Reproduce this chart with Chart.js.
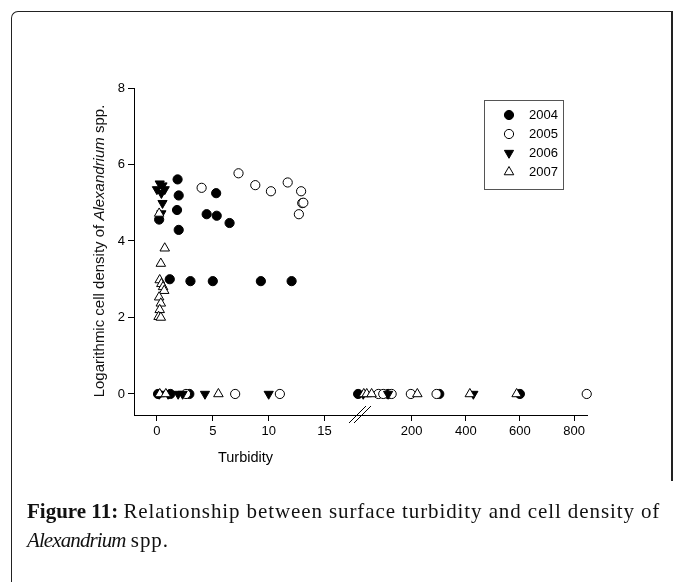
<!DOCTYPE html>
<html>
<head>
<meta charset="utf-8">
<script src="https://cdn.jsdelivr.net/npm/chart.js@4/dist/chart.umd.min.js"></script>
<style>
  html, body { margin: 0; padding: 0; background: #fff; }
  #wrap { position: relative; width: 683px; height: 582px; overflow: hidden; }
  #chart { position: absolute; left: 0; top: 0; }
  #frame { position: absolute; left: 11px; top: 11px; width: 659px; height: 700px;
           border-left: 1.5px solid #222; border-top: 1.5px solid #222; border-top-left-radius: 7px; }
  #frameRight { position: absolute; left: 671px; top: 11px; width: 1.5px; height: 470px; background: #222; }
  #ytitle { position: absolute; left: -71px; top: 242px; width: 340px; height: 18px; line-height: 18px;
            text-align: center; transform: rotate(-90deg); font: 15px "Liberation Sans", Arial, sans-serif; color: #111; white-space: nowrap; }
  #caption { position: absolute; left: 27px; top: 497px; width: 655px; font: 21px "Liberation Serif", "DejaVu Serif", serif;
             line-height: 29px; color: #111; white-space: nowrap; }
  #caption .reg { letter-spacing: 0.9px; }
  #caption i { letter-spacing: -0.9px; }
</style>
</head>
<body>
<div id="wrap">
  <canvas id="chart" width="683" height="582"></canvas>
  <div id="frame"></div>
  <div id="frameRight"></div>
  <div id="ytitle">Logarithmic cell density of <i>Alexandrium</i> spp.</div>
  <div id="caption"><b>Figure 11:</b> <span class="reg">Relationship between surface turbidity and cell density of</span><br><i>Alexandrium</i> <span class="reg">spp.</span></div>
</div>
<script>
const years = ['2004', '2005', '2006', '2007'];

// turbidity / log cell density per year
const turb2004 = [0.2, 1.85, 1.95, 1.8, 1.95, 5.3, 4.45, 5.35, 6.5, 1.15, 3.0, 5.0, 9.3, 12.05, 0.1, 1.2, 2.9, 18, 113, 302, 600];
const dens2004 = [4.56, 5.61, 5.19, 4.81, 4.29, 5.25, 4.70, 4.66, 4.47, 3.0, 2.95, 2.95, 2.95, 2.95, 0, 0, 0, 0, 0, 0, 0];

const turb2005 = [4.0, 7.3, 8.8, 10.2, 11.7, 12.9, 13.0, 13.1, 12.7, 2.6, 7.0, 11.0, 77, 95, 126, 197, 292, 847];
const dens2005 = [5.39, 5.77, 5.46, 5.30, 5.53, 5.30, 4.99, 5.00, 4.70, 0, 0, 0, 0, 0, 0, 0, 0, 0];

const turb2006 = [0.0, 0.25, 0.5, 0.7, 0.4, 0.5, 0.4, 0.2, 1.0, 1.9, 2.3, 4.3, 10.0, 21, 113, 428];
const dens2006 = [5.35, 5.5, 5.45, 5.35, 5.25, 4.99, 4.72, 0, 0, 0, 0, 0, 0, 0, 0, 0];

const turb2007 = [0.2, 0.7, 0.35, 0.25, 0.4, 0.55, 0.65, 0.2, 0.35, 0.25, 0.15, 0.35, 0.25, 0.8, 5.5, 23, 34, 52, 221, 415, 588];
const dens2007 = [4.72, 3.81, 3.41, 2.98, 2.88, 2.80, 2.70, 2.53, 2.37, 2.20, 2.02, 2.0, 0, 0, 0, 0, 0, 0, 0, 0, 0];

const yTicks = [0, 2, 4, 6, 8];
const nearTicks = [0, 5, 10, 15];
const farTicks = [200, 400, 600, 800];
const BREAK = 18; // above this the point goes on the right-hand (broken) axis

const series = [
  { turb: turb2004, dens: dens2004, style: 'circle', rot: 0, r: 4.6, fill: '#000' },
  { turb: turb2005, dens: dens2005, style: 'circle', rot: 0, r: 4.6, fill: '#fff' },
  { turb: turb2006, dens: dens2006, style: 'triangle', rot: 180, r: 5.3, fill: '#000' },
  { turb: turb2007, dens: dens2007, style: 'triangle', rot: 0, r: 5.5, fill: '#fff' }
];

const datasets = [];
series.forEach((s, i) => {
  const pts = s.turb.map((t, j) => ({ x: t, y: s.dens[j] }));
  [['xa', p => p.x <= BREAK], ['xb', p => p.x > BREAK]].forEach(([axis, keep]) => {
    datasets.push({
      label: years[i],
      data: pts.filter(keep),
      xAxisID: axis,
      pointStyle: s.style,
      rotation: s.rot,
      pointRadius: s.r,
      backgroundColor: s.fill,
      borderColor: '#000',
      borderWidth: 1,
      order: 4 - i,
      clip: false
    });
  });
});

const tickFont = { family: '"Liberation Sans", Arial, sans-serif', size: 13 };
const axisBase = {
  type: 'linear',
  position: 'bottom',
  stack: 'turb',
  grid: { drawOnChartArea: false, color: '#000', tickLength: 6 },
  border: { color: '#000', width: 1 },
  ticks: { color: '#000', font: tickFont, padding: 3, maxRotation: 0 },
  afterFit: s => { s.height = 52; }
};

// two slashes marking the axis break
const breakMarks = {
  id: 'breakMarks',
  afterDraw(chart) {
    const ctx = chart.ctx;
    const b = chart.scales.xa.right;
    const y = chart.scales.xa.top;
    ctx.save();
    ctx.strokeStyle = '#000';
    ctx.lineWidth = 1;
    ctx.beginPath();
    ctx.moveTo(b - 8, y + 8); ctx.lineTo(b + 9, y - 9);
    ctx.moveTo(b - 3, y + 8); ctx.lineTo(b + 14, y - 9);
    ctx.stroke();
    ctx.restore();
  }
};

function marker(ctx, s, x, y) {
  ctx.beginPath();
  if (s.style === 'circle') {
    ctx.arc(x, y, s.r, 0, Math.PI * 2);
  } else {
    let a = s.rot * Math.PI / 180;
    for (let k = 0; k < 3; k++) {
      const px = x + Math.sin(a) * s.r, py = y - Math.cos(a) * s.r;
      k ? ctx.lineTo(px, py) : ctx.moveTo(px, py);
      a += Math.PI * 2 / 3;
    }
    ctx.closePath();
  }
  ctx.fillStyle = s.fill;
  ctx.fill();
  ctx.stroke();
}

const boxLegend = {
  id: 'boxLegend',
  afterDraw(chart) {
    const ctx = chart.ctx;
    ctx.save();
    ctx.strokeStyle = '#555';
    ctx.lineWidth = 1;
    ctx.strokeRect(484.5, 100.5, 79, 89);
    ctx.strokeStyle = '#000';
    ctx.font = '13px "Liberation Sans", Arial, sans-serif';
    ctx.textBaseline = 'middle';
    series.forEach((s, i) => {
      const y = 115 + i * 19;
      marker(ctx, s, 509, y);
      ctx.fillStyle = '#000';
      ctx.fillText(years[i], 529, y);
    });
    ctx.restore();
  }
};

new Chart(document.getElementById('chart'), {
  type: 'scatter',
  data: { datasets },
  options: {
    responsive: false,
    animation: false,
    devicePixelRatio: 1,
    layout: { padding: { left: 0, right: 96, top: 88, bottom: 115 } },
    plugins: { legend: { display: false }, tooltip: { enabled: false } },
    scales: {
      xa: {
        ...axisBase,
        stackWeight: 223,
        min: -2.05, max: 17.9,
        afterBuildTicks: s => { s.ticks = nearTicks.map(v => ({ value: v })); },
        title: { display: true, text: 'Turbidity', color: '#000', padding: 0,
                 font: { family: '"Liberation Sans", Arial, sans-serif', size: 14.5 } }
      },
      xb: {
        ...axisBase,
        stackWeight: 230,
        min: -2, max: 848,
        afterBuildTicks: s => { s.ticks = farTicks.map(v => ({ value: v })); }
      },
      y: {
        type: 'linear',
        min: -0.55, max: 8,
        afterBuildTicks: s => { s.ticks = yTicks.map(v => ({ value: v })); },
        grid: { drawOnChartArea: false, color: '#000', tickLength: 6 },
        border: { color: '#000', width: 1 },
        ticks: { color: '#000', font: tickFont, padding: 3 },
        afterFit: s => { s.width = 134; }
      }
    }
  },
  plugins: [breakMarks, boxLegend]
});
</script>
</body>
</html>
